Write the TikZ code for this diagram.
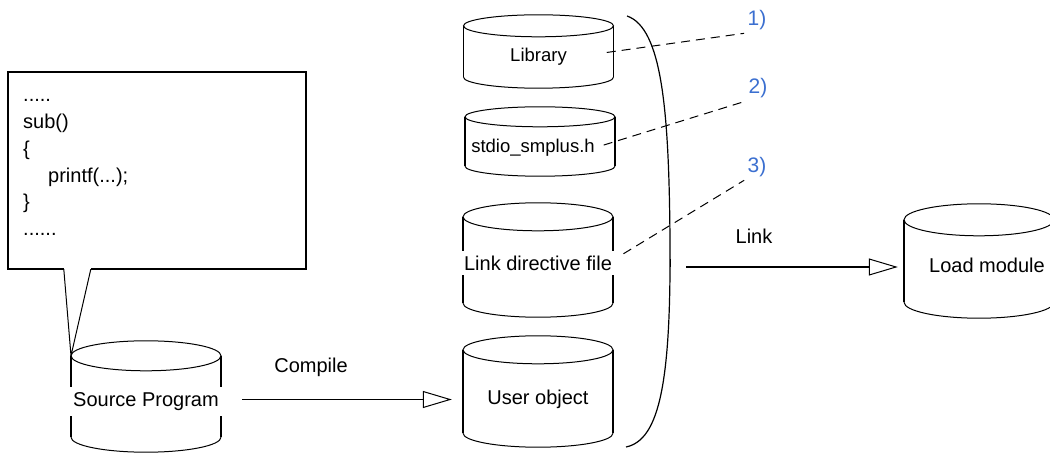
\documentclass[tikz,border=0pt]{standalone}
\usepackage{fontspec}
\setmainfont{Liberation Sans}
\usetikzlibrary{arrows.meta,backgrounds}
\definecolor{tag}{HTML}{3B6FD0}

\begin{document}
\begin{tikzpicture}[
    x=1pt, y=1pt,
    font=\fontsize{20}{24}\selectfont,
    drum/.style={rectangle, minimum width=150, inner sep=0pt},
    small/.style={font=\fontsize{18.5}{22}\selectfont},
    gap/.style={fill=white, inner xsep=3pt, inner ysep=5pt},
    rim/.style={black, line width=1pt},
    side/.style={black, line width=1.8pt},
    frame/.style={black, line width=2pt},
    flow/.style={black, line width=1.8pt,
                 -{Triangle[open, length=29pt, width=17pt, line width=1pt]}},
    lead/.style={black, line width=1pt, dash pattern=on 9pt off 6pt},
    tagl/.style={text=tag, font=\fontsize{21}{24}\selectfont},
    codeln/.style={anchor=base west, inner sep=0pt},
]
\useasboundingbox (0,0) rectangle (1050,453);

% ---- source code callout ----
\node[rectangle, minimum width=298, minimum height=197, inner sep=0pt]
    (code) at (157,282.5) {};
\foreach \dx/\t [count=\i from 0] in
    {0/{.....},0/{sub()},0/{\{},25/{printf(...);},0/{\}},0/{......}} {
    \node[codeln] (ln\i) at ({23+\dx},{351-26.7*\i}) {\t};
}
\draw[frame] ([xshift=56pt]code.south west) -| (code.north west)
    -| (code.south east) -- ([xshift=83pt]code.south west);
\coordinate (gapL) at ([xshift=56pt]code.south west);
\coordinate (gapR) at ([xshift=83pt]code.south west);

% ---- storages ----
\node[drum, minimum height=81,
      label={[gap, yshift=-5pt]center:Source Program}] (src) at (146,56.5) {};
\node[drum, minimum height=51,
      label={[small, yshift=-5pt]center:Library}] (lib) at (538.5,401.5) {};
\node[drum, minimum height=49,
      label={[small, xshift=-7pt, yshift=-6pt]center:stdio\_smplus.h}]
      (hdr) at (540,311.5) {};
\node[drum, minimum height=86,
      label={[gap, yshift=-3pt]center:Link directive file}] (dir) at (538,193) {};
\node[drum, minimum height=83,
      label={[yshift=-8pt]center:User object}] (obj) at (538,61.5) {};
\node[drum, minimum height=82,
      label={[xshift=8pt, yshift=-4pt]center:Load module}] (ldm) at (979,192) {};

\begin{scope}[on background layer]
\foreach \n/\r in {src/15,lib/11,hdr/10,dir/14,obj/14,ldm/16} {
    \draw[rim] (\n.north) ellipse [x radius=75, y radius=\r];
    \draw[rim] ([xshift=-75pt]\n.south)
        arc [start angle=180, end angle=360, x radius=75, y radius=\r];
    \draw[side] ([xshift=-75pt]\n.north) -- ([xshift=-75pt]\n.south)
        ([xshift=75pt]\n.north) -- ([xshift=75pt]\n.south);
}
\end{scope}

\draw[rim] (gapL) -- ([xshift=-75pt]src.north) -- (gapR);

% ---- numbered notes ----
\node[tagl] (n1) at (757,433) {1)};
\node[tagl] (n2) at (758,365) {2)};
\node[tagl] (n3) at (757,286) {3)};
\draw[lead, shorten <=-7pt] (lib.east) -- (n1.south west);
\draw[lead, shorten <=-12pt] (hdr.east) -- (n2.south west);
\draw[lead, shorten <=12pt] (dir.east) -- (n3.south west);

% ---- bracket round the link inputs ----
\draw[black, line width=1.2pt] (627,437) .. controls (662,425) and (669,343)
    .. (670,213) .. controls (671,73) and (660,13) .. (626,6);
\draw[side] (670.5,186) -- (670.5,194);

% ---- compile and link ----
\node (compile) at (311,86) {Compile};
\draw[flow, shorten <=21pt, shorten >=11pt]
    ([yshift=-3pt]src.east) -- ([yshift=-3pt]src.east -| obj.west);

\coordinate (lnk) at (686,186);
\node (link) at (754,217) {Link};
\draw[flow, shorten >=6pt] (lnk) -- (lnk -| ldm.west);
\end{tikzpicture}
\end{document}
